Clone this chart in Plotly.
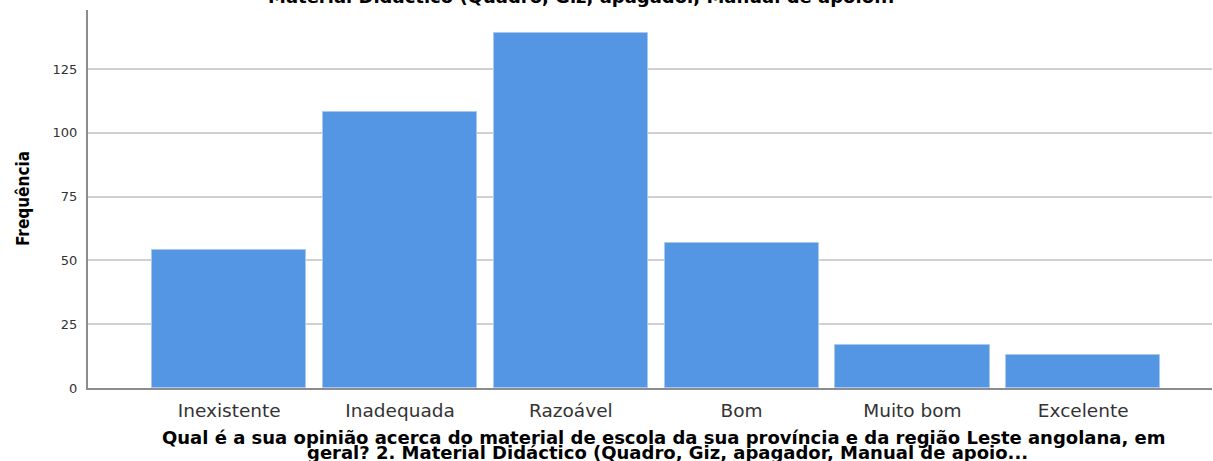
import plotly.graph_objects as go

categories = ["Inexistente", "Inadequada", "Razoável", "Bom", "Muito bom", "Excelente"]
frequencies = [54, 108, 139, 57, 17, 13]
y_tick_values = [0, 25, 50, 75, 100, 125]
y_title = "Frequência"
x_title_lines = [
    "Qual é a sua opinião acerca do material de escola da sua província e da região Leste angolana, em",
    "geral? 2. Material Didáctico (Quadro, Giz, apagador, Manual de apoio...",
]
top_title = "Material Didáctico (Quadro, Giz, apagador, Manual de apoio..."

positions = list(range(len(categories)))

fig = go.Figure()
fig.add_trace(go.Bar(
    x=positions,
    y=frequencies,
    width=0.903,
    marker=dict(color="#5596E4", line=dict(color="#a9c8f0", width=1)),
    hoverinfo="skip",
))

wide = "DejaVu Sans, Verdana, sans-serif"
narrow = "Liberation Sans Narrow, Arial Narrow, DejaVu Sans Condensed, Roboto Condensed, sans-serif"

fig.update_layout(
    width=1213, height=461,
    margin=dict(l=88, r=1, t=10, b=73),
    paper_bgcolor="white", plot_bgcolor="white",
    showlegend=False,
    bargap=0,
    xaxis=dict(
        range=[-0.827, 5.754],
        tickvals=positions, ticktext=categories,
        showgrid=False, zeroline=False,
        showline=True, linecolor="#8c8c8c", linewidth=1.5,
        ticks="outside", ticklen=5, tickcolor="rgba(0,0,0,0)",
        tickfont=dict(family=wide, size=18.5, color="#333333"),
    ),
    yaxis=dict(
        range=[0, 148.1],
        tickvals=y_tick_values,
        showgrid=True, gridcolor="#d0d0d0", gridwidth=1.5,
        zeroline=False,
        showline=True, linecolor="#8c8c8c", linewidth=2,
        ticks="outside", ticklen=6, tickcolor="rgba(0,0,0,0)",
        tickfont=dict(family=wide, size=13, color="#333333"),
    ),
    annotations=[
        dict(text="<b>" + y_title + "</b>", textangle=-90,
             xref="paper", yref="paper", x=0, y=0.5, xanchor="center", yanchor="middle",
             xshift=-65, showarrow=False,
             font=dict(family=narrow, size=17, color="#000000")),
        dict(text="<b>" + x_title_lines[0] + "</b>",
             xref="paper", yref="paper", x=0.5, y=0, xanchor="center", yanchor="middle",
             xshift=14, yshift=-49, showarrow=False,
             font=dict(family=wide, size=18, color="#000000")),
        dict(text="<b>" + x_title_lines[1] + "</b>",
             xref="paper", yref="paper", x=0.5, y=0, xanchor="center", yanchor="middle",
             xshift=17, yshift=-64, showarrow=False,
             font=dict(family=wide, size=18, color="#000000")),
        dict(text="<b>" + top_title + "</b>",
             xref="paper", yref="paper", x=0.5, y=1, xanchor="center", yanchor="middle",
             xshift=-69, yshift=14, showarrow=False,
             font=dict(family=wide, size=18, color="#000000")),
    ],
)

fig.write_html(
    "out.html",
    config={"displayModeBar": False},
    post_script="document.body.style.margin='0';document.body.style.overflow='hidden';",
)
